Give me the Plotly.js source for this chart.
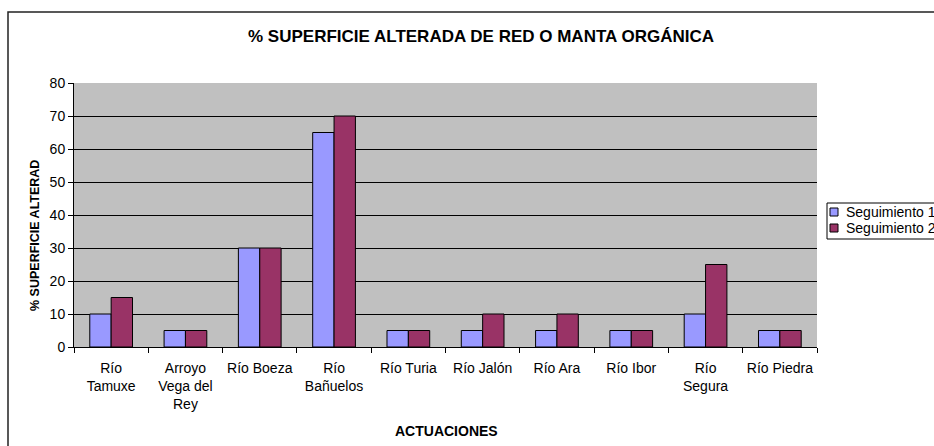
<!DOCTYPE html>
<html>
<head>
<meta charset="utf-8">
<script src="https://cdn.plot.ly/plotly-3.0.1.min.js"></script>
<style>
  html, body { margin: 0; padding: 0; background: #fff; overflow: hidden; }
  #chart { width: 934px; height: 446px; }
</style>
</head>
<body>
<div id="chart"></div>
<script>
// ------------------- Data -------------------
var categories = ['Río<br>Tamuxe', 'Arroyo<br>Vega del<br>Rey', 'Río Boeza', 'Río<br>Bañuelos',
    'Río Turia', 'Río Jalón', 'Río Ara', 'Río Ibor', 'Río<br>Segura', 'Río Piedra'];
var seguimiento1 = [10, 5, 30, 65, 5, 5, 5, 5, 10, 5];
var seguimiento2 = [15, 5, 30, 70, 5, 10, 10, 5, 25, 5];
var seriesNames = ['Seguimiento 1', 'Seguimiento 2'];
var seriesColors = ['#9999FF', '#993366'];
var yTicks = [0, 10, 20, 30, 40, 50, 60, 70, 80];

// ------------------- Helpers -------------------
// plot area in pixels: x 74..817, y 83..347
function px(x) { return (x - 74) / 743; }
function py(y) { return (347 - y) / 264; }

var fontFam = 'Arial, "Liberation Sans", sans-serif';

var trace1 = {
    x: categories,
    y: seguimiento1,
    name: seriesNames[0],
    type: 'bar',
    marker: { color: seriesColors[0], line: { color: '#000', width: 1 } },
    hoverinfo: 'y'
};
var trace2 = {
    x: categories,
    y: seguimiento2,
    name: seriesNames[1],
    type: 'bar',
    marker: { color: seriesColors[1], line: { color: '#000', width: 1 } },
    hoverinfo: 'y'
};

// outer chart frame (only left and top edges are inside the picture)
var shapes = [
    { type: 'rect', xref: 'paper', yref: 'paper', x0: px(8), x1: px(1000), y0: py(500), y1: py(12),
      line: { color: '#222', width: 1.5 }, layer: 'below' },
    // legend box
    { type: 'rect', xref: 'paper', yref: 'paper', x0: px(827), x1: px(1000), y0: py(239), y1: py(203),
      line: { color: '#000', width: 1 }, fillcolor: '#fff' }
];
var annotations = [
    { text: '% SUPERFICIE ALTERAD', xref: 'paper', yref: 'paper', x: px(35), y: py(236),
      textangle: -90, showarrow: false, xanchor: 'center', yanchor: 'middle',
      font: { family: fontFam, size: 12.5, color: '#000', weight: 'bold' } },
    { text: 'ACTUACIONES', xref: 'paper', yref: 'paper', x: px(446.5), y: py(431),
      showarrow: false, xanchor: 'center', yanchor: 'middle',
      font: { family: fontFam, size: 14, color: '#000', weight: 'bold' } }
];
// legend entries
var legendRows = [212, 228];
for (var i = 0; i < seriesNames.length; i++) {
    var cy = legendRows[i];
    shapes.push({ type: 'rect', xref: 'paper', yref: 'paper',
        x0: px(830), x1: px(838), y0: py(cy + 4), y1: py(cy - 4),
        fillcolor: seriesColors[i], line: { color: '#000', width: 1 } });
    annotations.push({ text: seriesNames[i], xref: 'paper', yref: 'paper',
        x: px(844), y: py(cy), showarrow: false, xanchor: 'left', yanchor: 'middle',
        font: { family: fontFam, size: 14, color: '#000' } });
}

var layout = {
    width: 934,
    height: 446,
    margin: { l: 74, r: 117, t: 83, b: 99 },
    paper_bgcolor: '#fff',
    plot_bgcolor: '#C0C0C0',
    showlegend: false,
    barmode: 'group',
    bargap: 0.425,
    bargroupgap: 0,
    title: {
        text: '% SUPERFICIE ALTERADA DE RED O MANTA ORGÁNICA',
        xref: 'container', yref: 'container',
        x: 481 / 934, y: 1 - 36 / 446, xanchor: 'center', yanchor: 'middle',
        font: { family: fontFam, size: 17, color: '#000', weight: 'bold' }
    },
    xaxis: {
        type: 'category',
        tickson: 'boundaries',
        ticks: 'outside',
        ticklen: 5,
        tickcolor: '#000',
        tickangle: 0,
        ticklabelstandoff: 8,
        showline: true,
        linecolor: '#000',
        linewidth: 1,
        showgrid: false,
        tickfont: { family: fontFam, size: 14, color: '#000' },
        fixedrange: true
    },
    yaxis: {
        range: [0, 80],
        tickvals: yTicks,
        ticks: 'outside',
        ticklen: 5,
        tickcolor: '#000',
        showline: true,
        linecolor: '#000',
        linewidth: 1,
        showgrid: true,
        gridcolor: '#000',
        gridwidth: 1,
        zeroline: false,
        tickfont: { family: fontFam, size: 14, color: '#000' },
        fixedrange: true
    },
    shapes: shapes,
    annotations: annotations
};

Plotly.newPlot('chart', [trace1, trace2], layout, { displayModeBar: false, staticPlot: true });
</script>
</body>
</html>
